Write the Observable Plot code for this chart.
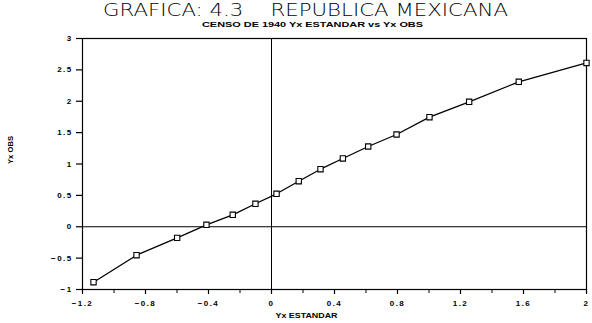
<!DOCTYPE html>
<html>
<head>
<meta charset="utf-8">
<script src="https://cdn.jsdelivr.net/npm/d3@7"></script>
<script src="https://cdn.jsdelivr.net/npm/@observablehq/plot@0.6"></script>
<style>
  html, body { margin: 0; padding: 0; background: #fff; }
</style>
</head>
<body>
<div id="chart"></div>
<script>
const titleText = "GRAFICA: 4.3    REPUBLICA MEXICANA";
const subtitleText = "CENSO DE 1940 Yx ESTANDAR vs Yx OBS";
const xLabel = "Yx ESTANDAR";
const yLabel = "Yx OBS";

const yxEstandar = [-1.13, -0.857, -0.599, -0.413, -0.246, -0.102, 0.032, 0.173, 0.311, 0.453, 0.614, 0.794, 1.003, 1.255, 1.570, 2.0];
const yxObs      = [-0.884, -0.453, -0.177, 0.031, 0.19, 0.366, 0.525, 0.726, 0.917, 1.088, 1.279, 1.470, 1.746, 1.991, 2.31, 2.61];

const xTicks = [-1.2, -0.8, -0.4, 0, 0.4, 0.8, 1.2, 1.6, 2];
const xMinorTicks = [-1.0, -0.6, -0.2, 0.2, 0.6, 1.0, 1.4, 1.8];
const yTicks = [-1, -0.5, 0, 0.5, 1, 1.5, 2, 2.5, 3];

const data = yxEstandar.map((x, i) => ({x, y: yxObs[i]}));
const fmt = d => String(d).replace("-", "\u2212");

const chart = Plot.plot({
  width: 592,
  height: 323,
  marginLeft: 82,
  marginRight: 6,
  marginTop: 38,
  marginBottom: 34,
  style: {fontFamily: '"Liberation Sans", Arial, sans-serif', fontSize: "8px", fontWeight: "bold", color: "black", background: "white", letterSpacing: "1.4px"},
  x: {domain: [-1.2, 2]},
  y: {domain: [-1, 3]},
  marks: [
    Plot.frame({stroke: "black", strokeWidth: 1.2}),
    Plot.ruleX([0], {stroke: "black", strokeWidth: 1}),
    Plot.ruleY([0], {stroke: "black", strokeWidth: 1}),
    Plot.axisX({ticks: xTicks, tickSize: 5, tickPadding: 6, tickFormat: fmt, label: null, stroke: "black", strokeWidth: 1.2}),
    Plot.axisX({ticks: xMinorTicks, tickSize: 4, tickFormat: () => "", label: null, stroke: "black"}),
    Plot.axisY({ticks: yTicks, tickSize: 6, tickPadding: 4, tickFormat: fmt, label: null, stroke: "black", strokeWidth: 1.2}),
    Plot.line(data, {x: "x", y: "y", stroke: "black", strokeWidth: 1.3}),
    Plot.dot(data, {x: "x", y: "y", symbol: "square", r: 3, fill: "white", stroke: "black", strokeWidth: 1.1}),
    Plot.text([titleText], {text: d => d, frameAnchor: "top", dx: -29, dy: -28, fontSize: 17, fontWeight: 300, fontFamily: '"DejaVu Sans", sans-serif', className: "ttl", lineAnchor: "middle"}),
    Plot.text([subtitleText], {text: d => d, frameAnchor: "top", dx: -22, dy: -14, fontSize: 8, fontWeight: "bold", className: "sub", lineAnchor: "middle"}),
    Plot.text([xLabel], {text: d => d, frameAnchor: "bottom", dx: -28, dy: 26, fontSize: 8, fontWeight: "bold", className: "xl", lineAnchor: "middle"}),
    Plot.text([yLabel], {text: d => d, frameAnchor: "left", dx: -72, rotate: -90, fontSize: 8, fontWeight: "bold", className: "yl", lineAnchor: "middle"})
  ]
});

const svg = d3.select(chart);
svg.select(".ttl text").style("letter-spacing", "0px").attr("textLength", 405).attr("lengthAdjust", "spacingAndGlyphs");
svg.select(".sub text").style("letter-spacing", "0px").attr("textLength", 221).attr("lengthAdjust", "spacingAndGlyphs");
svg.select(".xl text").style("letter-spacing", "0px").attr("textLength", 62).attr("lengthAdjust", "spacingAndGlyphs");
svg.select(".yl text").style("letter-spacing", "0px").attr("textLength", 28).attr("lengthAdjust", "spacingAndGlyphs");
document.getElementById("chart").appendChild(chart);
</script>
</body>
</html>
